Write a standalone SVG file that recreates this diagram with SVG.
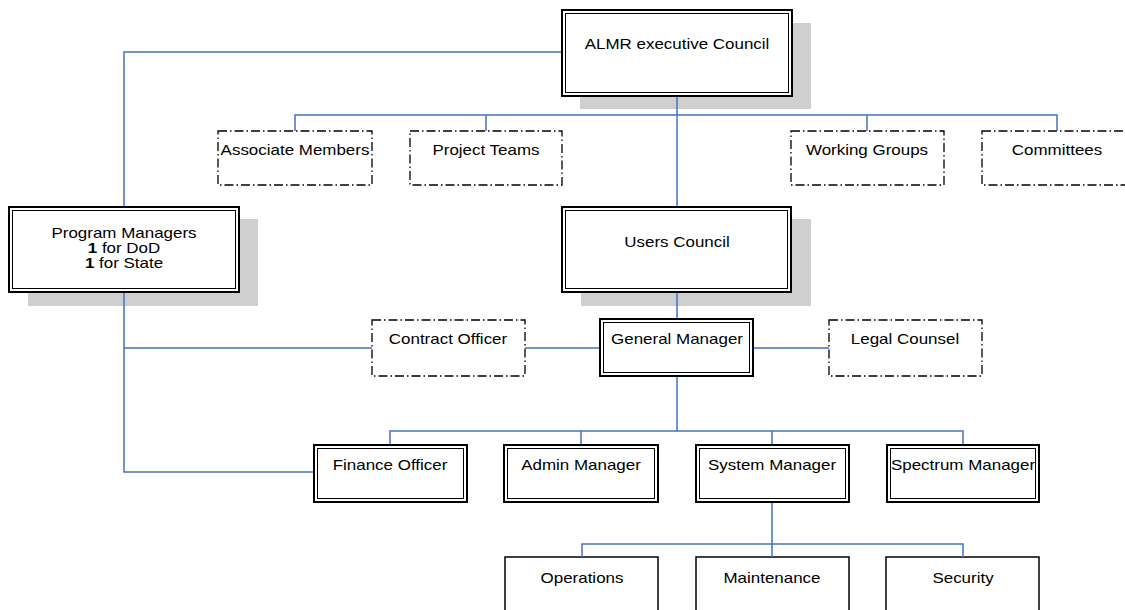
<svg xmlns="http://www.w3.org/2000/svg" width="1125" height="610" viewBox="0 0 1125 610">
<style>
.bg{fill:#fff}
.sh{fill:#cfcfcf}
.o{fill:#fff;stroke:#000;stroke-width:2}
.i{fill:none;stroke:#000;stroke-width:1}
.d{fill:#fff;stroke:#000;stroke-width:1.3;stroke-dasharray:9 3 1.5 3}
.s{fill:#fff;stroke:#000;stroke-width:1.5}
.c{fill:none;stroke:#4472c4;stroke-width:1.5}
text{font-family:"Liberation Sans",Arial,sans-serif;font-size:15px;fill:#000;text-anchor:middle}
</style>
<rect class="bg" x="0" y="0" width="1125" height="610"/>
<g id="almr">
<rect class="sh" x="580" y="23" width="231" height="86"/>
<rect class="o" x="562" y="10" width="230" height="86"/>
<rect class="i" x="565.5" y="13.5" width="223" height="79"/>
<text transform="matrix(1.13 0 0 1 677 49)">ALMR executive Council</text>
</g>
<g id="associate">
<rect class="d" x="218" y="131" width="154" height="54"/>
<text transform="matrix(1.13 0 0 1 295 155)">Associate Members</text>
</g>
<g id="project">
<rect class="d" x="410" y="131" width="152" height="54"/>
<text transform="matrix(1.13 0 0 1 486 155)">Project Teams</text>
</g>
<g id="working">
<rect class="d" x="791" y="131" width="153" height="54"/>
<text transform="matrix(1.13 0 0 1 867 155)">Working Groups</text>
</g>
<g id="committees">
<rect class="d" x="982" y="131" width="154" height="54"/>
<text transform="matrix(1.13 0 0 1 1057 155)">Committees</text>
</g>
<g id="program">
<rect class="sh" x="28" y="219" width="230" height="87"/>
<rect class="o" x="9" y="207" width="230" height="85"/>
<rect class="i" x="12.5" y="210.5" width="223" height="78"/>
<text transform="matrix(1.13 0 0 1 124 238)">Program Managers</text>
<text transform="matrix(1.13 0 0 1 124 253)"><tspan font-weight="bold">1</tspan> for DoD</text>
<text transform="matrix(1.13 0 0 1 124 268)"><tspan font-weight="bold">1</tspan> for State</text>
</g>
<g id="users">
<rect class="sh" x="581" y="219" width="230" height="87"/>
<rect class="o" x="562" y="207" width="229" height="85"/>
<rect class="i" x="565.5" y="210.5" width="222" height="78"/>
<text transform="matrix(1.13 0 0 1 677 247)">Users Council</text>
</g>
<g id="contract">
<rect class="d" x="372" y="320" width="153" height="56"/>
<text transform="matrix(1.13 0 0 1 448 344)">Contract Officer</text>
</g>
<g id="gm">
<rect class="o" x="600" y="319" width="153" height="57"/>
<rect class="i" x="603.5" y="322.5" width="146" height="50"/>
<text transform="matrix(1.13 0 0 1 677 344)">General Manager</text>
</g>
<g id="legal">
<rect class="d" x="829" y="320" width="153" height="56"/>
<text transform="matrix(1.13 0 0 1 905 344)">Legal Counsel</text>
</g>
<g id="finance">
<rect class="o" x="314" y="445" width="153" height="57"/>
<rect class="i" x="317.5" y="448.5" width="146" height="50"/>
<text transform="matrix(1.13 0 0 1 390 470)">Finance Officer</text>
</g>
<g id="admin">
<rect class="o" x="504" y="445" width="154" height="57"/>
<rect class="i" x="507.5" y="448.5" width="147" height="50"/>
<text transform="matrix(1.13 0 0 1 581 470)">Admin Manager</text>
</g>
<g id="system">
<rect class="o" x="696" y="445" width="153" height="57"/>
<rect class="i" x="699.5" y="448.5" width="146" height="50"/>
<text transform="matrix(1.13 0 0 1 772 470)">System Manager</text>
</g>
<g id="spectrum">
<rect class="o" x="887" y="445" width="152" height="57"/>
<rect class="i" x="890.5" y="448.5" width="145" height="50"/>
<text transform="matrix(1.13 0 0 1 963 470)">Spectrum Manager</text>
</g>
<g id="operations">
<rect class="s" x="505" y="557" width="153" height="60"/>
<text transform="matrix(1.13 0 0 1 582 583)">Operations</text>
</g>
<g id="maintenance">
<rect class="s" x="696" y="557" width="153" height="60"/>
<text transform="matrix(1.13 0 0 1 772 583)">Maintenance</text>
</g>
<g id="security">
<rect class="s" x="886" y="557" width="153" height="60"/>
<text transform="matrix(1.13 0 0 1 963 583)">Security</text>
</g>
<g id="connectors">
<path class="c" d="M561 52H124V206"/>
<path class="c" d="M677 97V206"/>
<path class="c" d="M295 131V115H1057V131M486 115V131M867 115V131"/>
<path class="c" d="M124 293V472H313"/>
<path class="c" d="M124 348H372M525 348H599M754 348H829"/>
<path class="c" d="M677 293V318M677 377V431"/>
<path class="c" d="M390 444V431H963V444M581 431V444M772 431V444"/>
<path class="c" d="M772 503V544M582 557V544H963V557M772 544V557"/>
</g>
</svg>
